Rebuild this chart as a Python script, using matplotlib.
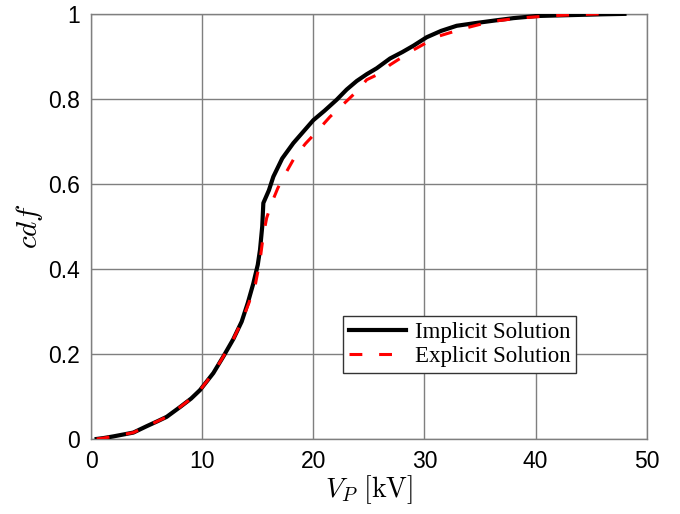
import matplotlib
matplotlib.use("Agg")
import matplotlib.pyplot as plt

# implicit solution (black, solid)
implicit_v = [0.5, 1.1, 2, 3, 3.8, 5, 6, 6.8, 8, 9, 9.8, 11, 11.9, 12.8, 13.55,
              14.1, 14.6, 15.0, 15.2, 15.4, 15.5, 16.0, 16.4, 17.2, 18.2, 19.0,
              20.0, 21.0, 22.1, 23.0, 23.9, 24.8, 25.7, 26.9, 28, 29, 30.2, 31.5,
              32.9, 34.5, 36.5, 38, 40.1, 43, 46, 48.0]
implicit_cdf = [0.0, 0.002, 0.006, 0.011, 0.015, 0.03, 0.042, 0.052, 0.075, 0.095,
                0.115, 0.155, 0.194, 0.235, 0.276, 0.32, 0.366, 0.41, 0.445, 0.50,
                0.555, 0.585, 0.617, 0.66, 0.696, 0.72, 0.75, 0.772, 0.798, 0.822,
                0.842, 0.858, 0.872, 0.895, 0.91, 0.925, 0.945, 0.96, 0.972, 0.978,
                0.985, 0.99, 0.995, 0.997, 0.999, 1.0]

# explicit solution (red, dashed)
explicit_v = [0.5, 1.1, 2, 3, 3.8, 5, 6, 6.8, 8, 9, 9.8, 11, 11.9, 12.8, 13.55,
              14.2, 14.8, 15.2, 15.5, 15.8, 16.25, 16.8, 17.4, 18.35, 19.3, 20.2,
              21.5, 22.8, 24.0, 24.8, 26.0, 26.9, 29.0, 31.2, 33.6, 36.0, 38.5,
              41, 43.5, 45.9]
explicit_cdf = [0.0, 0.002, 0.006, 0.011, 0.015, 0.03, 0.042, 0.052, 0.075, 0.095,
                0.115, 0.155, 0.194, 0.235, 0.276, 0.32, 0.366, 0.42, 0.48, 0.52,
                0.555, 0.59, 0.62, 0.664, 0.695, 0.72, 0.758, 0.79, 0.82, 0.845,
                0.86, 0.88, 0.915, 0.947, 0.966, 0.982, 0.99, 0.995, 0.998, 1.0]

x_ticks = [0, 10, 20, 30, 40, 50]
y_ticks = [0, 0.2, 0.4, 0.6, 0.8, 1]
y_tick_labels = ["0", "0.2", "0.4", "0.6", "0.8", "1"]

plt.rcParams["mathtext.fontset"] = "cm"

fig = plt.figure(figsize=(6.8, 5.14), dpi=100)
ax = fig.add_axes([0.134, 0.146, 0.817, 0.827])

ax.plot(implicit_v, implicit_cdf, color="black", linewidth=3.0,
        label="Implicit Solution", zorder=3)
ax.plot(explicit_v, explicit_cdf, color="red", linewidth=2.2,
        dashes=(4.2, 5.5), label="Explicit Solution", zorder=4)

ax.set_xlim(0, 50)
ax.set_ylim(0, 1)
ax.set_xticks(x_ticks)
ax.set_yticks(y_ticks)
ax.set_yticklabels(y_tick_labels)
ax.tick_params(direction="in", length=0, labelsize=16.5, pad=8,
               labelfontfamily="Liberation Sans")
ax.grid(True, color="#7f7f7f", linewidth=1.0)
for sp in ax.spines.values():
    sp.set_color("#7f7f7f")
    sp.set_linewidth(1.0)

ax.set_xlabel(r"$V_P\ [\mathrm{kV}]$", fontsize=20, labelpad=0)
ax.set_ylabel(r"$cdf$", fontsize=21, labelpad=2)

leg = ax.legend(loc="lower left", bbox_to_anchor=(0.453, 0.155), borderaxespad=0,
                prop={"family": "Liberation Serif", "size": 16.5}, fancybox=False,
                handlelength=2.5, handletextpad=0.4, borderpad=0.25,
                labelspacing=0.15, framealpha=1)
leg.get_frame().set_edgecolor("#333333")
leg.get_frame().set_linewidth(1.0)

fig.savefig("out.png", dpi=100)
